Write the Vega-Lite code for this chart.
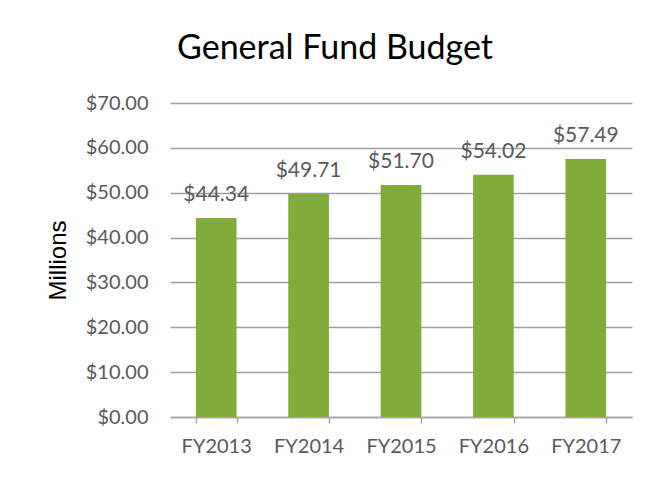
{
  "$schema": "https://vega.github.io/schema/vega-lite/v6.json",
  "autosize": "none",
  "width": 462,
  "height": 314,
  "padding": {"left": 170, "top": 103, "right": 24, "bottom": 62},
  "background": "white",
  "title": {
    "text": "General Fund Budget",
    "font": "Lato",
    "fontSize": 34,
    "fontWeight": "normal",
    "color": "#000000",
    "anchor": "middle",
    "dx": -66,
    "offset": 27
  },
  "data": {
    "values": [
      {"year": "FY2013", "budget": 44.34},
      {"year": "FY2014", "budget": 49.71},
      {"year": "FY2015", "budget": 51.70},
      {"year": "FY2016", "budget": 54.02},
      {"year": "FY2017", "budget": 57.49}
    ]
  },
  "encoding": {
    "x": {
      "field": "year",
      "type": "nominal",
      "sort": null,
      "scale": {"paddingInner": 0.56, "paddingOuter": 0.28},
      "axis": {
        "title": null,
        "labelAngle": 0,
        "labelFont": "Lato",
        "labelFontSize": 20,
        "labelColor": "#595959",
        "labelPadding": 13,
        "domainColor": "#a6a6a6",
        "domainWidth": 1.5,
        "tickColor": "#a6a6a6",
        "tickWidth": 1.5,
        "tickSize": 6,
        "tickBand": "extent",
        "grid": false
      }
    },
    "y": {
      "field": "budget",
      "type": "quantitative",
      "scale": {"domain": [0, 70], "nice": false},
      "axis": {
        "title": "Millions",
        "titleFont": "Liberation Sans",
        "titleFontSize": 24,
        "titleFontWeight": "normal",
        "titleColor": "#000000",
        "titlePadding": 15,
        "values": [0, 10, 20, 30, 40, 50, 60, 70],
        "format": "$.2f",
        "labelFont": "Lato",
        "labelFontSize": 20,
        "labelColor": "#595959",
        "labelPadding": 22,
        "domain": false,
        "ticks": false,
        "grid": true,
        "gridColor": "#a0a0a0",
        "gridWidth": 1.6
      }
    }
  },
  "layer": [
    {
      "mark": {"type": "bar", "color": "#7fac3b"}
    },
    {
      "mark": {
        "type": "text",
        "font": "Lato",
        "fontSize": 21,
        "color": "#595959",
        "baseline": "alphabetic",
        "dy": -17
      },
      "encoding": {
        "text": {"field": "budget", "type": "quantitative", "format": "$.2f"}
      }
    }
  ],
  "config": {
    "view": {"stroke": null}
  }
}
